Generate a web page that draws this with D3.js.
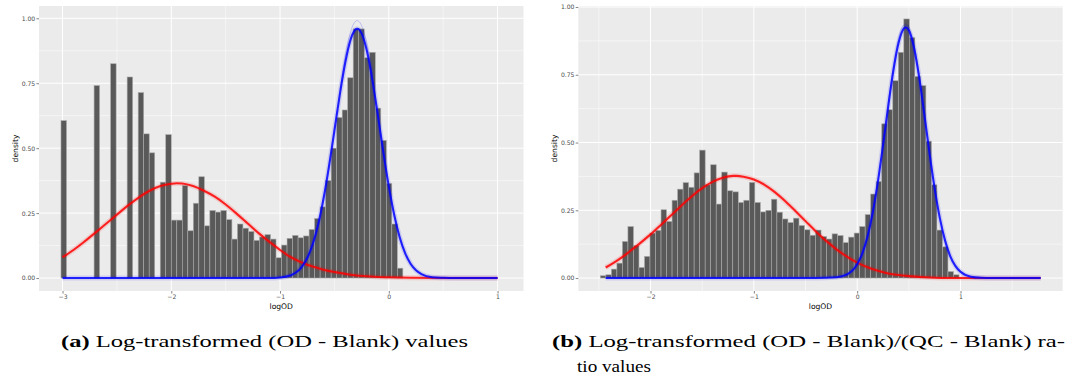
<!DOCTYPE html>
<html>
<head>
<meta charset="utf-8">
<script src="https://cdn.jsdelivr.net/npm/d3@7"></script>
<style>
  html, body { margin: 0; padding: 0; background: #ffffff; }
  svg { display: block; }
</style>
</head>
<body>
<svg id="chart" width="1072" height="379"></svg>
<script>
// ---------- Panel (a): log-transformed (OD - Blank) ----------
const binCenterA0 = -2.989;   // centre of the first histogram bin
const binWidthA = 0.0507;
const densityA = [
  0.606, 0, 0, 0, 0, 0, 0.741, 0, 0, 0.825, 0, 0, 0.774, 0, 0.714, 0.555,
  0.482, 0, 0.369, 0.552, 0.223, 0.223, 0.356, 0.182, 0.288, 0.390, 0.201,
  0.260, 0.254, 0.260, 0.225, 0.150, 0.208, 0.192, 0.179, 0.145, 0.158,
  0.167, 0.150, 0.078, 0.127, 0.153, 0.164, 0.155, 0.162, 0.187, 0.229,
  0.274, 0.375, 0.500, 0.618, 0.647, 0.771, 0.959, 0.959, 0.848, 0.869,
  0.654, 0.530, 0.364, 0.208, 0.038
];
// fitted mixture components: [logOD, density]
const redCurveA = [
  [-3.0, 0.080], [-2.9, 0.108], [-2.8, 0.140], [-2.7, 0.174], [-2.6, 0.209],
  [-2.5, 0.244], [-2.4, 0.279], [-2.3, 0.310], [-2.2, 0.336], [-2.1, 0.354],
  [-2.0, 0.363], [-1.95, 0.365], [-1.9, 0.364], [-1.8, 0.354], [-1.7, 0.336],
  [-1.6, 0.313], [-1.5, 0.283], [-1.4, 0.248], [-1.3, 0.211], [-1.2, 0.174],
  [-1.1, 0.140], [-1.0, 0.108], [-0.9, 0.080], [-0.8, 0.060], [-0.7, 0.044],
  [-0.6, 0.032], [-0.5, 0.023], [-0.4, 0.016], [-0.3, 0.010], [-0.2, 0.007],
  [-0.1, 0.004], [0.0, 0.003], [0.2, 0.001], [0.5, 0.0], [1.0, 0.0]
];
const blueCurveA = [
  [-3.0, 0.0], [-1.1, 0.0], [-1.0, 0.002], [-0.9, 0.011], [-0.8, 0.043],
  [-0.75, 0.077], [-0.7, 0.130], [-0.65, 0.205], [-0.6, 0.306], [-0.55, 0.430],
  [-0.5, 0.568], [-0.45, 0.708], [-0.4, 0.831], [-0.35, 0.920], [-0.3, 0.959],
  [-0.29, 0.960], [-0.25, 0.942], [-0.2, 0.872], [-0.15, 0.760], [-0.1, 0.625],
  [-0.05, 0.484], [0.0, 0.353], [0.05, 0.243], [0.1, 0.157], [0.15, 0.096],
  [0.2, 0.055], [0.25, 0.030], [0.3, 0.015], [0.4, 0.003], [0.5, 0.001],
  [0.6, 0.0], [1.0, 0.0]
];
// tallest posterior draw around the blue peak
const blueTopDrawA = [
  [-0.45, 0.725], [-0.4, 0.855], [-0.35, 0.950], [-0.3, 0.990], [-0.29, 0.991],
  [-0.25, 0.972], [-0.2, 0.898], [-0.15, 0.780]
];
const xTicksA = [-3, -2, -1, 0, 1];

// ---------- Panel (b): log-transformed (OD - Blank)/(QC - Blank) ----------
const binCenterB0 = -2.459;
const binWidthB = 0.0534;
const densityB = [
  0.0085, 0.012, 0.033, 0.055, 0.135, 0.190, 0.120, 0.039, 0.080, 0.166,
  0.176, 0.252, 0.209, 0.287, 0.328, 0.352, 0.335, 0.388, 0.472, 0.344,
  0.418, 0.273, 0.391, 0.322, 0.318, 0.279, 0.287, 0.353, 0.279, 0.244,
  0.250, 0.291, 0.243, 0.218, 0.205, 0.221, 0.194, 0.178, 0.158, 0.177,
  0.153, 0.144, 0.163, 0.157, 0.131, 0.151, 0.166, 0.190, 0.234, 0.310,
  0.356, 0.569, 0.621, 0.728, 0.833, 0.956, 0.887, 0.744, 0.710, 0.505,
  0.344, 0.177, 0.115, 0.024, 0.012
];
const redCurveB = [
  [-2.434, 0.039], [-2.35, 0.058], [-2.264, 0.080], [-2.2, 0.099], [-2.1, 0.129],
  [-2.0, 0.161], [-1.9, 0.196], [-1.8, 0.232], [-1.7, 0.268], [-1.6, 0.302],
  [-1.5, 0.332], [-1.4, 0.355], [-1.3, 0.370], [-1.2, 0.377], [-1.17, 0.377],
  [-1.1, 0.374], [-1.0, 0.364], [-0.9, 0.345], [-0.8, 0.318], [-0.7, 0.285],
  [-0.6, 0.248], [-0.5, 0.210], [-0.4, 0.172], [-0.3, 0.137], [-0.2, 0.106],
  [-0.1, 0.079], [0.0, 0.057], [0.1, 0.040], [0.2, 0.027], [0.3, 0.017],
  [0.4, 0.011], [0.5, 0.007], [0.7, 0.002], [0.9, 0.0], [1.776, 0.0]
];
const blueCurveB = [
  [-2.434, 0.0], [-0.4, 0.0], [-0.2, 0.003], [-0.1, 0.013], [0.0, 0.051],
  [0.05, 0.091], [0.1, 0.153], [0.15, 0.241], [0.2, 0.355], [0.25, 0.490],
  [0.3, 0.633], [0.35, 0.765], [0.4, 0.867], [0.45, 0.920], [0.47, 0.925],
  [0.5, 0.914], [0.55, 0.850], [0.6, 0.741], [0.65, 0.604], [0.7, 0.461],
  [0.75, 0.330], [0.8, 0.221], [0.85, 0.139], [0.9, 0.081], [0.95, 0.045],
  [1.0, 0.023], [1.1, 0.005], [1.2, 0.001], [1.3, 0.0], [1.776, 0.0]
];
const blueTopDrawB = [
  [0.3, 0.645], [0.35, 0.782], [0.4, 0.885], [0.45, 0.934], [0.47, 0.937],
  [0.5, 0.926], [0.55, 0.862], [0.6, 0.752]
];
const xTicksB = [-2, -1, 0, 1];

const yTicks = [0, 0.25, 0.5, 0.75, 1.0];
const yTickFormat = d3.format(".2f");
const xTitle = "logOD";
const yTitle = "density";

const captionA = { label: "(a)", text: "Log-transformed (OD - Blank) values" };
const captionB = {
  label: "(b)",
  line1: "Log-transformed (OD - Blank)/(QC - Blank) ra-",
  line2: "tio values"
};

// ---------- drawing ----------
const svg = d3.select("#chart");
const sans = "'DejaVu Sans', 'Liberation Sans', sans-serif";
const serif = "'Liberation Serif', 'DejaVu Serif', serif";

function minorBreaks(ticks, domain) {
  const step = ticks[1] - ticks[0];
  const out = [];
  for (let i = -1; i < ticks.length; i++) {
    const m = ticks[0] + (i + 0.5) * step;
    if (m >= domain[0] && m <= domain[1]) out.push(m);
  }
  return out;
}

function drawPanel(o) {
  const g = svg.append("g");
  const x = d3.scaleLinear().domain(o.xDomain).range([o.left, o.right]);
  const y = d3.scaleLinear().domain(o.yDomain).range([o.bottom, o.top]);

  g.append("rect")
    .attr("x", o.left).attr("y", o.top)
    .attr("width", o.right - o.left).attr("height", o.bottom - o.top)
    .attr("fill", "#EBEBEB");

  const yMinor = minorBreaks(yTicks, o.yDomain);
  const xMinor = minorBreaks(o.xTicks, o.xDomain);

  // grid
  g.selectAll(".ymin").data(yMinor).join("line")
    .attr("x1", o.left).attr("x2", o.right)
    .attr("y1", d => y(d)).attr("y2", d => y(d))
    .attr("stroke", "#fff").attr("stroke-width", 0.5);
  g.selectAll(".xmin").data(xMinor).join("line")
    .attr("y1", o.top).attr("y2", o.bottom)
    .attr("x1", d => x(d)).attr("x2", d => x(d))
    .attr("stroke", "#fff").attr("stroke-width", 0.5);
  g.selectAll(".ymaj").data(yTicks).join("line")
    .attr("x1", o.left).attr("x2", o.right)
    .attr("y1", d => y(d)).attr("y2", d => y(d))
    .attr("stroke", "#fff").attr("stroke-width", 1);
  g.selectAll(".xmaj").data(o.xTicks).join("line")
    .attr("y1", o.top).attr("y2", o.bottom)
    .attr("x1", d => x(d)).attr("x2", d => x(d))
    .attr("stroke", "#fff").attr("stroke-width", 1);

  // histogram
  const bins = o.density.map((v, i) => ({
    x0: o.bin0 + (i - 0.5) * o.binWidth,
    x1: o.bin0 + (i + 0.5) * o.binWidth,
    v
  })).filter(b => b.v > 0);
  g.selectAll(".bar").data(bins).join("rect")
    .attr("x", b => x(b.x0)).attr("width", b => x(b.x1) - x(b.x0))
    .attr("y", b => y(b.v)).attr("height", b => y(0) - y(b.v))
    .attr("fill", "#595959").attr("stroke", "#ababab").attr("stroke-width", 0.6);

  // component curves: soft band of posterior draws, then the central curve
  const line = d3.line().x(d => x(d[0])).y(d => y(d[1])).curve(d3.curveMonotoneX);
  [[o.red, "#ff0000"], [o.blue, "#0000ff"]].forEach(([pts, col]) => {
    g.append("path").attr("d", line(pts)).attr("fill", "none")
      .attr("stroke", col).attr("stroke-opacity", 0.13).attr("stroke-width", 5)
      .attr("stroke-linejoin", "round");
    g.append("path").attr("d", line(pts)).attr("fill", "none")
      .attr("stroke", col).attr("stroke-opacity", 0.85).attr("stroke-width", 2.1)
      .attr("stroke-linejoin", "round");
  });
  g.append("path").attr("d", line(o.blueTop)).attr("fill", "none")
    .attr("stroke", "#0000ff").attr("stroke-opacity", 0.25).attr("stroke-width", 0.8);

  // axes
  const yAxis = d3.axisLeft(y).tickValues(yTicks).tickFormat(yTickFormat)
    .tickSize(2.6).tickPadding(1.2);
  const ya = g.append("g").attr("transform", `translate(${o.left},0)`).call(yAxis);
  const xAxis = d3.axisBottom(x).tickValues(o.xTicks).tickFormat(d3.format("d"))
    .tickSize(2.6).tickPadding(1.2);
  const xa = g.append("g").attr("transform", `translate(0,${o.bottom})`).call(xAxis);
  [ya, xa].forEach(a => {
    a.select(".domain").remove();
    a.selectAll(".tick line").attr("stroke", "#333333").attr("stroke-width", 0.6);
    a.selectAll(".tick text").attr("fill", "#4D4D4D")
      .attr("font-family", sans).attr("font-size", 6.1);
  });

  g.append("text")
    .attr("x", (o.left + o.right) / 2).attr("y", o.bottom + 17.5)
    .attr("text-anchor", "middle").attr("font-family", sans).attr("font-size", 7.6)
    .attr("fill", "#000").text(xTitle);
  g.append("text")
    .attr("transform", `translate(${o.left - 21.5},${(o.top + o.bottom) / 2}) rotate(-90)`)
    .attr("text-anchor", "middle").attr("font-family", sans).attr("font-size", 7.6)
    .attr("fill", "#000").text(yTitle);
}

drawPanel({
  left: 39, right: 523.5, top: 6, bottom: 291,
  xDomain: [-3.2165, 1.2385], yDomain: [-0.0499, 1.0473],
  xTicks: xTicksA, density: densityA, bin0: binCenterA0, binWidth: binWidthA,
  red: redCurveA, blue: blueCurveA, blueTop: blueTopDrawA
});
drawPanel({
  left: 578.3, right: 1062.7, top: 6, bottom: 291,
  xDomain: [-2.699, 1.989], yDomain: [-0.0478, 1.0038],
  xTicks: xTicksB, density: densityB, bin0: binCenterB0, binWidth: binWidthB,
  red: redCurveB, blue: blueCurveB, blueTop: blueTopDrawB
});

// captions
function caption(xPos, yPos, width, label, text) {
  const t = svg.append("text").attr("x", xPos).attr("y", yPos)
    .attr("font-family", serif).attr("font-size", 17).attr("fill", "#000")
    .attr("textLength", width).attr("lengthAdjust", "spacingAndGlyphs");
  if (label) t.append("tspan").attr("font-weight", "bold").text(label + " ");
  t.append("tspan").text(text);
}
caption(61, 347, 407, captionA.label, captionA.text);
caption(552, 347, 513, captionB.label, captionB.line1);
caption(577, 372, 74, null, captionB.line2);
</script>
</body>
</html>
